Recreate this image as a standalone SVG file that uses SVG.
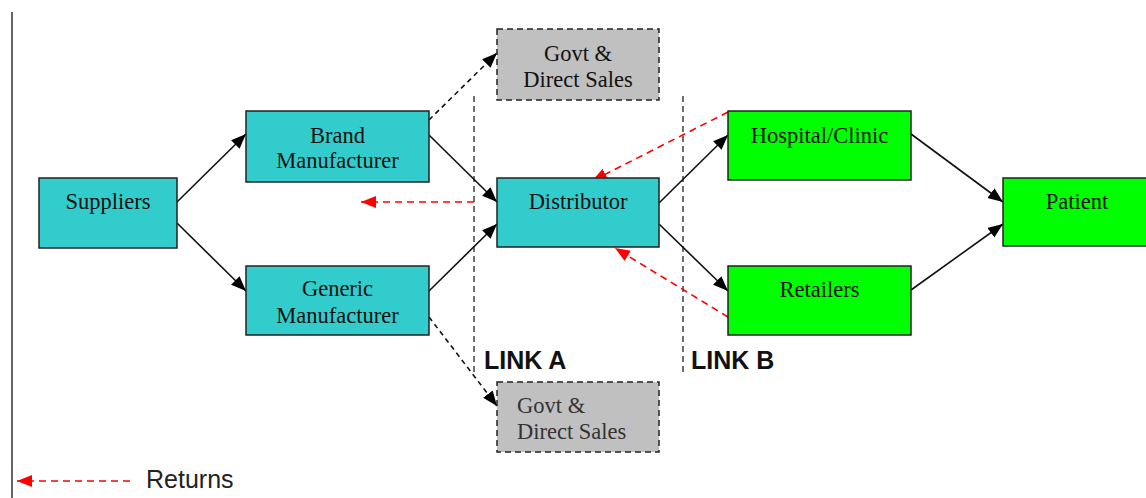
<svg xmlns="http://www.w3.org/2000/svg" width="1146" height="498" viewBox="0 0 1146 498">
  <defs>
    <marker id="arrowBlack" markerUnits="userSpaceOnUse" markerWidth="17" markerHeight="13" refX="15" refY="6" orient="auto">
      <path d="M0,0 L15,6 L0,12 z" fill="#000"/>
    </marker>
    <marker id="arrowRed" markerUnits="userSpaceOnUse" markerWidth="17" markerHeight="13" refX="15" refY="6" orient="auto">
      <path d="M0,0 L15,6 L0,12 z" fill="#ff0000"/>
    </marker>
    <style>
      .box { stroke: #222; stroke-width: 1.5; }
      .cyan { fill: #33cccc; }
      .green { fill: #00ff00; }
      .gray { fill: #c0c0c0; stroke-dasharray: 6 4; }
      .lbl { font-family: "Liberation Serif", "Times New Roman", serif; font-size: 22.5px; fill: #111; text-anchor: middle; }
      .lblL { font-family: "Liberation Serif", "Times New Roman", serif; font-size: 22.5px; fill: #333; }
      .flow { stroke: #111; stroke-width: 1.6; fill: none; marker-end: url(#arrowBlack); }
      .flowDash { stroke: #111; stroke-width: 1.6; fill: none; stroke-dasharray: 5 4; marker-end: url(#arrowBlack); }
      .ret { stroke: #ff0000; stroke-width: 1.6; fill: none; stroke-dasharray: 7 5; marker-end: url(#arrowRed); }
      .divider { stroke: #333; stroke-width: 1.4; stroke-dasharray: 6 4; }
      .link { font-family: "Liberation Sans", Arial, sans-serif; font-size: 25px; font-weight: bold; fill: #111; }
    </style>
  </defs>

  <rect x="0" y="0" width="1146" height="498" fill="#ffffff"/>
  <!-- frame edge on the left -->
  <line x1="12" y1="12" x2="12" y2="498" stroke="#333" stroke-width="1.5"/>

  <!-- link dividers -->
  <g id="dividers">
    <line class="divider" x1="474" y1="96" x2="474" y2="373"/>
    <line class="divider" x1="683" y1="96" x2="683" y2="373"/>
    <text class="link" x="484" y="369">LINK A</text>
    <text class="link" x="691" y="369">LINK B</text>
  </g>

  <g id="connectors">
    <line class="flow" x1="177" y1="202" x2="246" y2="134"/>
    <line class="flow" x1="177" y1="223" x2="246" y2="291"/>
    <line class="flow" x1="429" y1="135" x2="497" y2="202"/>
    <line class="flow" x1="429" y1="291" x2="497" y2="224"/>
    <line class="flowDash" x1="429" y1="120" x2="497" y2="53"/>
    <line class="flowDash" x1="429" y1="317" x2="497" y2="406"/>
    <line class="flow" x1="659" y1="203" x2="728" y2="135"/>
    <line class="flow" x1="659" y1="224" x2="728" y2="291"/>
    <line class="flow" x1="911" y1="134" x2="1003" y2="202"/>
    <line class="flow" x1="911" y1="290" x2="1003" y2="224"/>
    <!-- returns -->
    <line class="ret" x1="728" y1="112" x2="592" y2="181"/>
    <line class="ret" x1="728" y1="317" x2="615" y2="248"/>
    <line class="ret" x1="474" y1="202" x2="361" y2="202"/>
  </g>

  <g id="suppliers">
    <rect class="box cyan" x="39" y="178" width="138" height="70"/>
    <text class="lbl" x="108" y="209">Suppliers</text>
  </g>
  <g id="brand-manufacturer">
    <rect class="box cyan" x="246" y="111" width="183" height="71"/>
    <text class="lbl" x="337.5" y="143">Brand</text>
    <text class="lbl" x="337.5" y="168">Manufacturer</text>
  </g>
  <g id="generic-manufacturer">
    <rect class="box cyan" x="246" y="266" width="183" height="69"/>
    <text class="lbl" x="337.5" y="296">Generic</text>
    <text class="lbl" x="337.5" y="323">Manufacturer</text>
  </g>
  <g id="govt-direct-top">
    <rect class="box gray" x="497" y="29" width="162" height="71"/>
    <text class="lbl" x="578" y="61">Govt &amp;</text>
    <text class="lbl" x="578" y="87">Direct Sales</text>
  </g>
  <g id="govt-direct-bottom">
    <rect class="box gray" x="497" y="382" width="162" height="70"/>
    <text class="lblL" x="517" y="413">Govt &amp;</text>
    <text class="lblL" x="517" y="439">Direct Sales</text>
  </g>
  <g id="distributor">
    <rect class="box cyan" x="497" y="178" width="162" height="69"/>
    <text class="lbl" x="578" y="209">Distributor</text>
  </g>
  <g id="hospital-clinic">
    <rect class="box green" x="728" y="111" width="183" height="69"/>
    <text class="lbl" x="819.5" y="143">Hospital/Clinic</text>
  </g>
  <g id="retailers">
    <rect class="box green" x="728" y="266" width="183" height="69"/>
    <text class="lbl" x="819.5" y="297">Retailers</text>
  </g>
  <g id="patient">
    <rect class="box green" x="1003" y="178" width="145" height="68"/>
    <text class="lbl" x="1077" y="209">Patient</text>
  </g>

  <g id="legend">
    <line class="ret" x1="130" y1="481" x2="17" y2="481"/>
    <text x="146" y="488" font-family="Liberation Sans, Arial, sans-serif" font-size="25" fill="#222">Returns</text>
  </g>
</svg>
